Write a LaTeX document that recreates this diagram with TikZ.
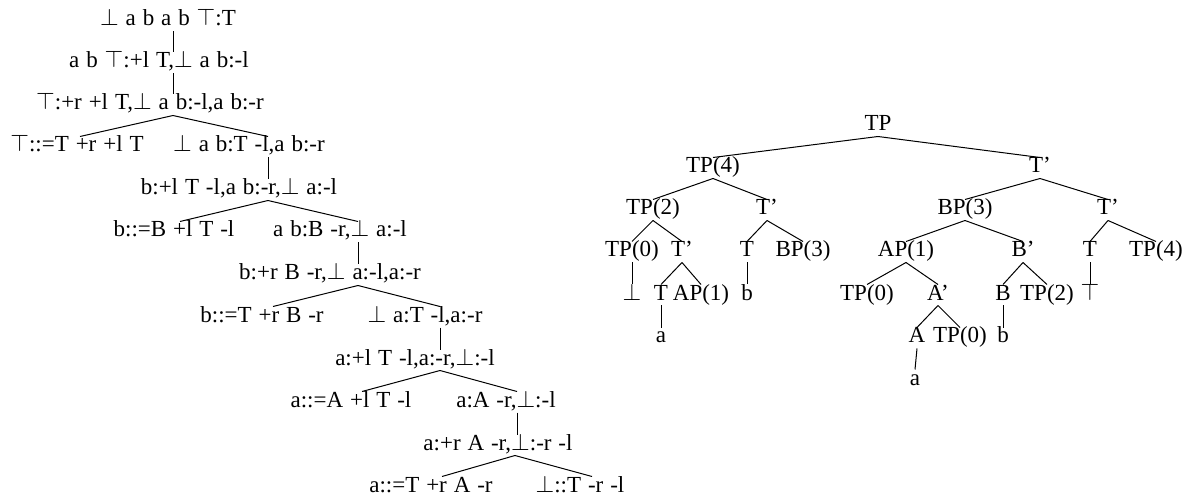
\documentclass[tikz,border=0pt]{standalone}
\usepackage{fontspec}
\setmainfont{Liberation Serif}
\newfontfamily\derivfont{Liberation Serif}[WordSpace=1.2]

\begin{document}
\begin{tikzpicture}[x=0.5pt,y=-0.5pt,line width=0.5pt,
    deriv/.style={font=\derivfont\fontsize{11.5}{13}\selectfont,inner sep=0.5pt,text height=7pt,text depth=2pt},
    cat/.style={font=\fontsize{11.5}{13}\selectfont,inner sep=0.5pt,text height=7pt,text depth=2pt}]
            \useasboundingbox (0,0) rectangle (1194,497);

            % Derivation: root node
            \node[deriv] (d1) at (168,21) {$\bot$ a b a b $\top$:T};

            % Second stage nodes
            \node[deriv] (d2) at (159,63) {a b $\top$:+l T,$\bot$ a b:-l};
            \draw (d1.south -| 173,0) -- (d2.north -| 173,0);

            % Third stage nodes
            \node[deriv] (d3) at (150,105) {$\top$:+r +l T,$\bot$ a b:-l,a b:-r};
            \draw (d2.south -| 173,0) -- (d3.north -| 173,0);

            % Fourth stage nodes
            \node[deriv] (d4a) at (77,147) {$\top$::=T +r +l T};
            \node[deriv] (d4b) at (249,147) {$\bot$ a b:T -l,a b:-r};
            \draw (d3.south -| 173,0) -- (d4a.north -| 80,0);
            \draw (d3.south -| 173,0) -- (d4b.north -| 268,0);

            % Fifth stage nodes
            \node[deriv] (d5) at (239,190) {b:+l T -l,a b:-r,$\bot$ a:-l};
            \draw (d4b.south -| 268,0) -- (d5.north -| 268,0);

            % Sixth stage nodes
            \node[deriv] (d6a) at (174,232) {b::=B +l T -l};
            \node[deriv] (d6b) at (340,232) {a b:B -r,$\bot$ a:-l};
            \draw (d5.south -| 268,0) -- (d6a.north -| 180,0);
            \draw (d5.south -| 268,0) -- (d6b.north -| 358,0);

            % Seventh stage nodes
            \node[deriv] (d7) at (330,275) {b:+r B -r,$\bot$ a:-l,a:-r};
            \draw (d6b.south -| 358,0) -- (d7.north -| 358,0);

            % Eighth stage nodes
            \node[deriv] (d8a) at (262,317) {b::=T +r B -r};
            \node[deriv] (d8b) at (425,317) {$\bot$ a:T -l,a:-r};
            \draw (d7.south -| 358,0) -- (d8a.north -| 273,0);
            \draw (d7.south -| 358,0) -- (d8b.north -| 440,0);

            % Ninth stage nodes
            \node[deriv] (d9) at (415,360) {a:+l T -l,a:-r,$\bot$:-l};
            \draw (d8b.south -| 440,0) -- (d9.north -| 440,0);

            % Tenth stage nodes
            \node[deriv] (d10a) at (351,402) {a::=A +l T -l};
            \node[deriv] (d10b) at (506,402) {a:A -r,$\bot$:-l};
            \draw (d9.south -| 440,0) -- (d10a.north -| 362,0);
            \draw (d9.south -| 440,0) -- (d10b.north -| 517,0);

            % Eleventh stage nodes
            \node[deriv] (d11) at (498,445) {a:+r A -r,$\bot$:-r -l};
            \draw (d10b.south -| 517,0) -- (d11.north -| 517,0);

            % Leaves
            \node[deriv] (d12a) at (431,487) {a::=T +r A -r};
            \node[deriv] (d12b) at (580,487) {$\bot$::T -r -l};
            \draw (d11.south -| 515,0) -- (d12a.north -| 442,0);
            \draw (d11.south -| 515,0) -- (d12b.north -| 592,0);

            % Phrase tree: root node
            \node[cat] (tp) at (878,126) {TP};

            % First level
            \node[cat] (tp4) at (713,168) {TP(4)};
            \node[cat] (tbar) at (1040,168) {T'};
            \draw (tp.south) -- (tp4.north);
            \draw (tp.south) -- (tbar.north);

            % Second level
            \node[cat] (tp2) at (653,210) {TP(2)};
            \node[cat] (tbarA) at (767,210) {T'};
            \node[cat] (bp3) at (965,210) {BP(3)};
            \node[cat] (tbarB) at (1108,210) {T'};
            \draw (tp4.south) -- (tp2.north);
            \draw (tp4.south) -- (tbarA.north);
            \draw (tbar.south) -- (bp3.north);
            \draw (tbar.south) -- (tbarB.north);

            % Third level
            \node[cat] (tp0) at (632,252) {TP(0)};
            \node[cat] (tbarC) at (682,252) {T'};
            \node[cat] (tA) at (747,252) {T};
            \node[cat] (bp3A) at (803,252) {BP(3)};
            \node[cat] (ap1) at (906,252) {AP(1)};
            \node[cat] (bbar) at (1023,252) {B'};
            \node[cat] (tB) at (1090,252) {T};
            \node[cat] (tp4A) at (1156,252) {TP(4)};
            \draw (tp2.south) -- (tp0.north);
            \draw (tp2.south) -- (tbarC.north);
            \draw (tbarA.south) -- (tA.north);
            \draw (tbarA.south) -- (bp3A.north);
            \draw (bp3.south) -- (ap1.north);
            \draw (bp3.south) -- (bbar.north);
            \draw (tbarB.south) -- (tB.north);
            \draw (tbarB.south) -- (tp4A.north);

            % Fourth level
            \node[cat] (bot) at (632,295) {$\bot$};
            \node[cat] (tC) at (661,295) {T};
            \node[cat] (ap1A) at (701,295) {AP(1)};
            \node[cat] (bA) at (747,295) {b};
            \node[cat] (tp0A) at (867,295) {TP(0)};
            \node[cat] (abar) at (938,295) {A'};
            \node[cat] (bB) at (1003,295) {B};
            \node[cat] (tp2A) at (1047,295) {TP(2)};
            \node[cat] (top) at (1090,295) {$\top$};
            \draw (tp0.south) -- (bot.north);
            \draw (tbarC.south) -- (tC.north);
            \draw (tbarC.south) -- (ap1A.north);
            \draw (tA.south) -- (bA.north);
            \draw (ap1.south) -- (tp0A.north);
            \draw (ap1.south) -- (abar.north);
            \draw (bbar.south) -- (bB.north);
            \draw (bbar.south) -- (tp2A.north);
            \draw (tB.south) -- (top.north);

            % Fifth level
            \node[cat] (aA) at (661,338) {a};
            \node[cat] (aC) at (917,338) {A};
            \node[cat] (tp0B) at (960,338) {TP(0)};
            \node[cat] (bC) at (1003,338) {b};
            \draw (tC.south) -- (aA.north);
            \draw (abar.south) -- (aC.north);
            \draw (abar.south) -- (tp0B.north);
            \draw (bB.south) -- (bC.north);

            % Sixth level
            \node[cat] (aB) at (915,380) {a};
            \draw (aC.south) -- (aB.north);
        \end{tikzpicture}
\end{document}
